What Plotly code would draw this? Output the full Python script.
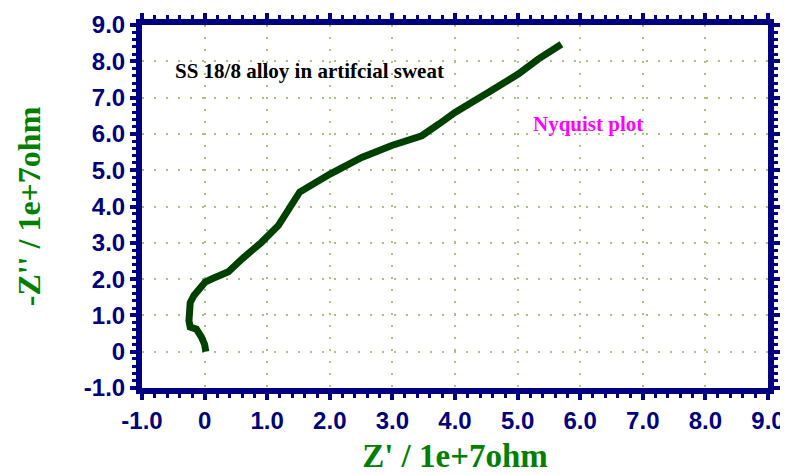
import plotly.graph_objects as go

# Nyquist data (units of 1e+7 ohm)
z_real = [0.02, 0.00, -0.05, -0.09, -0.13, -0.23, -0.25, -0.24, -0.23, -0.17, -0.07, 0.01,
          0.12, 0.25, 0.38, 0.60, 0.90, 1.18, 1.35, 1.52, 2.01, 2.51, 2.99, 3.47, 3.75,
          4.00, 4.53, 5.01, 5.33, 5.70]
z_imag = [0.00, 0.20, 0.40, 0.55, 0.62, 0.68, 0.85, 1.10, 1.35, 1.55, 1.75, 1.92,
          2.01, 2.08, 2.20, 2.56, 3.00, 3.48, 3.95, 4.40, 4.90, 5.35, 5.68, 5.95, 6.28,
          6.59, 7.14, 7.65, 8.06, 8.47]

tick_vals = [-1, 0, 1, 2, 3, 4, 5, 6, 7, 8, 9]
tick_text = ["-1.0", "0", "1.0", "2.0", "3.0", "4.0", "5.0", "6.0", "7.0", "8.0", "9.0"]

navy = "#000080"
grid_col = "#a9c27e"

fig = go.Figure()
fig.add_trace(go.Scatter(x=z_real, y=z_imag, mode="lines",
                         line=dict(color="#004000", width=7), showlegend=False))

axis_common = dict(
    range=[-1, 9], tickvals=tick_vals, ticktext=tick_text,
    showline=True, linecolor=navy, linewidth=6, mirror="allticks",
    ticks="outside", ticklen=6, tickwidth=4, tickcolor=navy,
    minor=dict(ticks="outside", ticklen=4, tickwidth=3, tickcolor=navy, dtick=0.2, showgrid=False),
    showgrid=True, gridcolor=grid_col, gridwidth=1.5, griddash="2px,10px",
    zeroline=False, automargin=False,
    tickfont=dict(family="Liberation Sans", size=24, color=navy, weight="bold"),
)

fig.update_xaxes(**axis_common,
                 title=dict(text="Z' / 1e+7ohm", standoff=14,
                            font=dict(family="Liberation Serif", size=33, color="#008000", weight="bold")))
fig.update_yaxes(**axis_common,
                 title=dict(text="-Z'' / 1e+7ohm", standoff=36,
                            font=dict(family="Liberation Serif", size=32, color="#008000", weight="bold")))

# page has an 8px body margin; positions below are page pixels
OFF = 8
fig.add_annotation(x=173, y=71, xref="paper", yref="paper", text="SS 18/8 alloy in artifcial sweat",
                   showarrow=False, xanchor="left", yanchor="middle",
                   font=dict(family="Liberation Serif", size=21, color="black", weight="bold"))
fig.add_annotation(x=531, y=124, xref="paper", yref="paper", text="Nyquist plot",
                   showarrow=False, xanchor="left", yanchor="middle",
                   font=dict(family="Liberation Serif", size=21, color="#ff00ff", weight="bold"))

W, H = 788 - OFF, 474 - OFF
L, R, T, B = 142 - OFF, 20, 25 - OFF, 86
pw, ph = W - L - R, H - T - B
for a in fig.layout.annotations:
    a.x = (a.x - OFF - L) / pw
    a.y = 1 - (a.y - OFF - T) / ph

fig.update_layout(width=W, height=H, margin=dict(l=L, r=R, t=T, b=B),
                  plot_bgcolor="white", paper_bgcolor="white")

fig.write_html("out.html")
